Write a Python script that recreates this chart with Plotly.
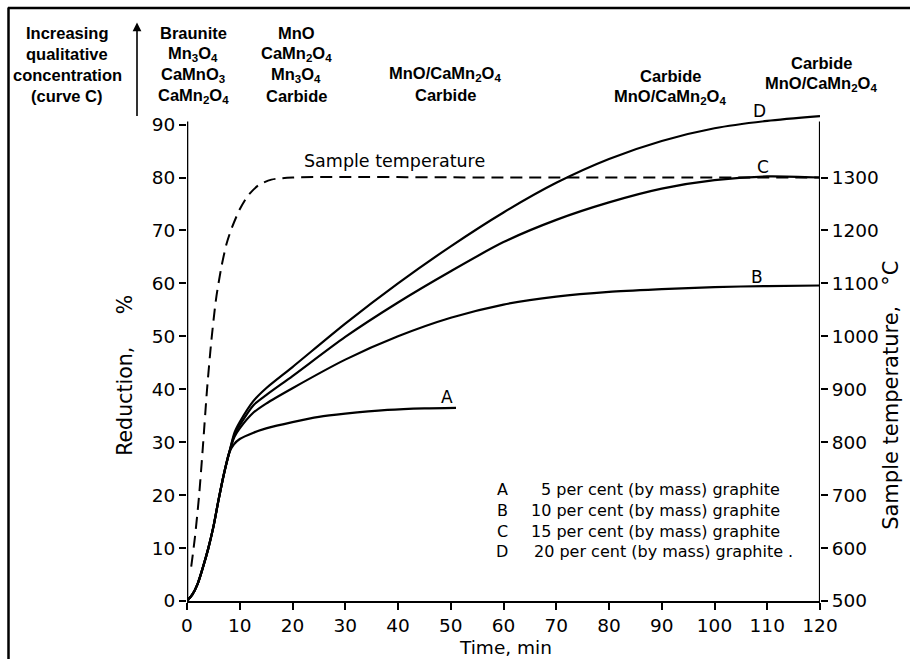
import plotly.graph_objects as go

# ---------------- data ----------------
time_common = [0, 1, 2, 3, 4, 5, 6, 7, 8]
red_common = [0, 1.2, 3.2, 6.3, 9.8, 14.0, 19.2, 24.0, 28.0]

time_A = [8.9, 10, 12.6, 15, 20, 25, 30, 38, 45, 51]
red_A = [29.6, 30.6, 31.8, 32.6, 33.8, 34.8, 35.4, 36.1, 36.4, 36.5]

time_BCD = [9, 10, 12.6, 15, 20, 30, 40, 50, 60, 70, 80, 90, 100, 110, 120]
red_B = [31.0, 32.6, 35.6, 37.3, 40.2, 45.6, 50.0, 53.5, 56.0, 57.5, 58.4, 58.9, 59.3, 59.5, 59.6]
red_C = [31.4, 33.2, 37.0, 38.9, 42.5, 49.9, 56.4, 62.3, 67.8, 72.0, 75.3, 77.9, 79.5, 80.2, 80.0]
red_D = [31.8, 33.8, 37.8, 40.2, 44.2, 52.4, 60.0, 67.0, 73.4, 79.0, 83.5, 86.9, 89.3, 90.7, 91.6]

time_temp = [0.8, 1.5, 2.3, 3.0, 3.8, 4.6, 5.5, 6.5, 7.5, 8.5, 10, 11.5, 13.5, 16, 20, 60, 120]
temp_C = [565, 620, 700, 790, 900, 990, 1070, 1130, 1175, 1205, 1240, 1265, 1285, 1296, 1300, 1300, 1300]

x_ticks = [0, 10, 20, 30, 40, 50, 60, 70, 80, 90, 100, 110, 120]
y_ticks = [0, 10, 20, 30, 40, 50, 60, 70, 80, 90]
t_ticks = [500, 600, 700, 800, 900, 1000, 1100, 1200, 1300]

curve_labels = ["A", "B", "C", "D"]
legend_texts = ["5 per cent (by mass) graphite", "10 per cent (by mass) graphite",
                "15 per cent (by mass) graphite", "20 per cent (by mass) graphite ."]

# ---------------- geometry helpers ----------------
W, H = 910, 659
L, R, T, B = 187, 820, 114.4, 601  # plot area in pixels
YMAX = 92.0

def px(xp):
    return (xp - L) / (R - L)

def py(yp):
    return (B - yp) / (B - T)

fig = go.Figure()

line_style = dict(color="black", width=2.2, shape="spline", smoothing=0.7)

for tx, ty in [(time_A, red_A), (time_BCD, red_B), (time_BCD, red_C), (time_BCD, red_D)]:
    fig.add_trace(go.Scatter(x=time_common + tx, y=red_common + ty, mode="lines", line=line_style,
                             showlegend=False, hoverinfo="skip", yaxis="y"))

fig.add_trace(go.Scatter(x=time_temp, y=temp_C, mode="lines",
                         line=dict(color="black", width=2, dash="12px,7px", shape="spline", smoothing=0.7),
                         showlegend=False, hoverinfo="skip", yaxis="y2"))

tickfont = dict(family="DejaVu Sans", size=18.5, color="black")

fig.update_layout(
    width=W, height=H,
    margin=dict(l=L, r=W - R, t=T, b=H - B),
    paper_bgcolor="white", plot_bgcolor="white",
    showlegend=False,
    xaxis=dict(range=[0, 120], tickvals=x_ticks, ticks="outside", ticklen=7, tickwidth=1.5,
               tickcolor="black", showline=True, linecolor="black", linewidth=2,
               showgrid=False, zeroline=False, tickfont=tickfont),
    yaxis=dict(range=[0, YMAX], tickvals=y_ticks, ticks="outside", ticklen=7, tickwidth=1.5,
               tickcolor="black", showline=False, showgrid=False, zeroline=False, tickfont=tickfont),
    yaxis2=dict(range=[500, 500 + YMAX * 10], tickvals=t_ticks, ticks="outside", ticklen=7, tickwidth=1.5,
                tickcolor="black", showline=False, showgrid=False, zeroline=False, tickfont=tickfont,
                overlaying="y", side="right"),
)

# axis titles
fig.add_annotation(xref="paper", yref="paper", x=px(505), y=py(647), text="Time, min", showarrow=False,
                   xanchor="center", yanchor="middle", font=dict(family="DejaVu Sans", size=18.5, color="black"))
fig.add_annotation(xref="paper", yref="paper", x=px(125), y=py(376), text="Reduction," + "\u00a0" * 5 + "%",
                   showarrow=False, textangle=-90, xanchor="center", yanchor="middle",
                   font=dict(family="DejaVu Sans", size=20.5, color="black"))
fig.add_annotation(xref="paper", yref="paper", x=px(891), y=py(396), text="Sample temperature," + "\u00a0" * 3 + "\u00b0C",
                   showarrow=False, textangle=-90, xanchor="center", yanchor="middle",
                   font=dict(family="DejaVu Sans", size=21, color="black"))

# axis lines (left and right) as shapes
fig.add_shape(type="line", xref="x", yref="y", x0=0, x1=0, y0=0, y1=90.6,
              line=dict(color="black", width=2.6))
fig.add_shape(type="line", xref="x", yref="y", x0=120, x1=120, y0=0, y1=90.6,
              line=dict(color="black", width=2.2))

# figure frame (top and left)
fig.add_shape(type="line", xref="paper", yref="paper", x0=px(8), x1=px(912), y0=py(8.5), y1=py(8.5),
              line=dict(color="black", width=2.5))
fig.add_shape(type="line", xref="paper", yref="paper", x0=px(8.5), x1=px(8.5), y0=py(8), y1=py(662),
              line=dict(color="black", width=2.5))

# arrow in header
fig.add_annotation(xref="paper", yref="paper", x=px(137), y=py(23), ax=0, ay=95,
                   showarrow=True, arrowhead=2, arrowsize=1.1,
                   arrowwidth=1.6, arrowcolor="black", text="")

hfont = dict(family="Liberation Sans", size=16.5, color="black")

def header(lines, xc, y0, dy=21):
    for i, s in enumerate(lines):
        fig.add_annotation(xref="paper", yref="paper", x=px(xc), y=py(y0 + i * dy), text="<b>" + s + "</b>",
                           showarrow=False, xanchor="center", yanchor="middle", font=hfont)

header(["Increasing", "qualitative", "concentration", "(curve C)"], 67, 33)
header(["Braunite", "Mn<sub>3</sub>O<sub>4</sub>", "CaMnO<sub>3</sub>", "CaMn<sub>2</sub>O<sub>4</sub>"], 193, 33)
header(["MnO", "CaMn<sub>2</sub>O<sub>4</sub>", "Mn<sub>3</sub>O<sub>4</sub>", "Carbide"], 296, 33)
header(["MnO/CaMn<sub>2</sub>O<sub>4</sub>", "Carbide"], 445, 74)
header(["Carbide", "MnO/CaMn<sub>2</sub>O<sub>4</sub>"], 670, 76)
header(["Carbide", "MnO/CaMn<sub>2</sub>O<sub>4</sub>"], 821, 63)

# curve labels
lab_font = dict(family="DejaVu Sans", size=17, color="black")
lab_pos = [(49.3, 36.6), (108.0, 59.4), (109.2, 80.1), (108.6, 90.6)]
for lab, (lx, ly) in zip(curve_labels, lab_pos):
    fig.add_annotation(x=lx, y=ly, xref="x", yref="y", text=lab, showarrow=False,
                       xanchor="center", yanchor="bottom", font=lab_font, yshift=-2)

fig.add_annotation(x=39.4, y=83.2, xref="x", yref="y", text="Sample temperature", showarrow=False,
                   font=dict(family="DejaVu Sans", size=17.5, color="black"))

# legend text
leg_font = dict(family="DejaVu Sans", size=16, color="black")
leg_y = [490, 511, 531.5, 552]
for lab, txt, yy in zip(curve_labels, legend_texts, leg_y):
    fig.add_annotation(xref="paper", yref="paper", x=px(502), y=py(yy), text=lab, showarrow=False,
                       xanchor="center", yanchor="middle", font=leg_font)
    xr = 795 if txt.endswith(".") else 782
    fig.add_annotation(xref="paper", yref="paper", x=px(xr), y=py(yy), text=txt, showarrow=False,
                       xanchor="right", yanchor="middle", font=leg_font)

fig.write_html("out.html")
